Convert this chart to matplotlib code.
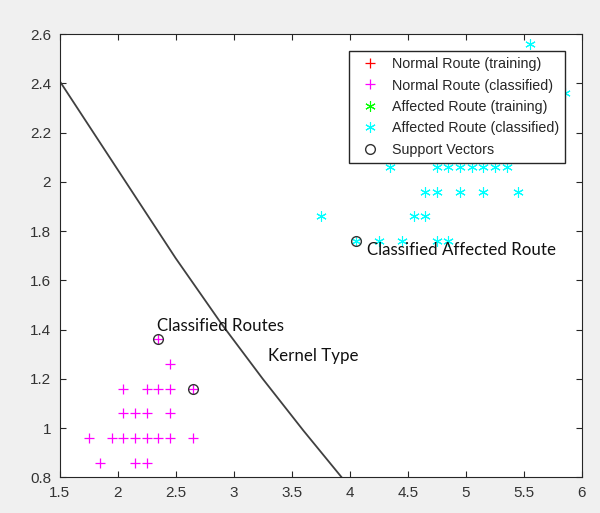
import numpy as np
import matplotlib.pyplot as plt
from matplotlib.lines import Line2D

# normal routes (classified)
normal_x = [2.35, 2.45, 2.05, 2.25, 2.35, 2.45, 2.65, 2.05, 2.15, 2.25, 2.45,
            1.75, 1.95, 2.05, 2.15, 2.25, 2.35, 2.45, 2.65, 1.85, 2.15, 2.25]
normal_y = [1.36, 1.26, 1.16, 1.16, 1.16, 1.16, 1.16, 1.06, 1.06, 1.06, 1.06,
            0.96, 0.96, 0.96, 0.96, 0.96, 0.96, 0.96, 0.96, 0.86, 0.86, 0.86]

# affected routes (classified)
affected_x = [5.55, 5.85, 4.35, 4.75, 4.85, 4.95, 5.05, 5.15, 5.25, 5.35,
              4.65, 4.75, 4.95, 5.15, 5.45, 3.75, 4.55, 4.65,
              4.05, 4.25, 4.45, 4.75, 4.85]
affected_y = [2.56, 2.36, 2.06, 2.06, 2.06, 2.06, 2.06, 2.06, 2.06, 2.06,
              1.96, 1.96, 1.96, 1.96, 1.96, 1.86, 1.86, 1.86,
              1.76, 1.76, 1.76, 1.76, 1.76]

# training sets (none visible)
normal_train_x, normal_train_y = [], []
affected_train_x, affected_train_y = [], []

# support vectors
sv_x = [2.35, 2.65, 4.05]
sv_y = [1.36, 1.16, 1.76]

# decision boundary
bound_x = [1.50, 2.00, 2.50, 2.90, 3.25, 3.60, 3.93]
bound_y = [2.41, 2.05, 1.69, 1.42, 1.20, 0.99, 0.80]

labels = ["Normal Route (training)", "Normal Route (classified)",
          "Affected Route (training)", "Affected Route (classified)",
          "Support Vectors"]

plt.rcParams['font.family'] = ['Liberation Sans', 'DejaVu Sans']

fig = plt.figure(figsize=(6, 5.13), dpi=100, facecolor='#f0f0f0')
ax = fig.add_axes([59.5 / 600, 1 - 477.3 / 513, 522.5 / 600, 443.3 / 513])

star = (6, 2, 0)
ms = 7.5
ax.plot(normal_train_x, normal_train_y, ls='none', marker='+', color='red', ms=ms, mew=0.9)
ax.plot(normal_x, normal_y, ls='none', marker='+', color='#ff00ff', ms=ms, mew=0.9)
ax.plot(affected_train_x, affected_train_y, ls='none', marker=star, color='#00ff00', ms=ms, mew=0.8)
ax.plot(affected_x, affected_y, ls='none', marker=star, color='#00ffff', ms=ms, mew=0.8)
ax.plot(sv_x, sv_y, ls='none', marker='o', mfc='none', mec='#333333', ms=7, mew=1)
ax.plot(bound_x, bound_y, color='#404040', lw=1.3)

handles = [
    Line2D([], [], ls='none', marker='+', color='red', ms=ms, mew=0.9),
    Line2D([], [], ls='none', marker='+', color='#ff00ff', ms=ms, mew=0.9),
    Line2D([], [], ls='none', marker=star, color='#00ff00', ms=ms, mew=0.8),
    Line2D([], [], ls='none', marker=star, color='#00ffff', ms=ms, mew=0.8),
    Line2D([], [], ls='none', marker='o', mfc='none', mec='#333333', ms=7, mew=1),
]
leg = ax.legend(handles, labels, loc='upper right', bbox_to_anchor=(0.968, 0.9625),
                borderaxespad=0, fontsize=10.3, labelspacing=0.52, handlelength=2.1,
                handletextpad=0.45, borderpad=0.45, fancybox=False, framealpha=1)
leg.get_frame().set_edgecolor('#262626')
leg.get_frame().set_linewidth(1.0)
for t in leg.get_texts():
    t.set_color('#262626')

tfont = dict(family=['Lato', 'DejaVu Sans'], fontsize=12.2, color='#111111',
             ha='left', va='center')
ax.text(2.34, 1.414, "Classified Routes", **tfont)
ax.text(3.30, 1.291, "Kernel Type", **tfont)
ax.text(4.15, 1.724, "Classified Affected Route", **tfont)

ax.set_xlim(1.5, 6)
ax.set_ylim(0.8, 2.6)
ax.set_xticks(np.arange(1.5, 6.01, 0.5))
ax.set_yticks(np.arange(0.8, 2.61, 0.2))
ax.set_xticklabels(["1.5", "2", "2.5", "3", "3.5", "4", "4.5", "5", "5.5", "6"])
ax.set_yticklabels(["0.8", "1", "1.2", "1.4", "1.6", "1.8", "2", "2.2", "2.4", "2.6"])
ax.tick_params(direction='in', top=True, right=True, length=4, width=0.8,
               color='#262626', labelcolor='#333333', labelsize=11, pad=6)
for s in ax.spines.values():
    s.set_color('#262626')
    s.set_linewidth(0.8)

fig.savefig('out.png', dpi=100, facecolor=fig.get_facecolor())
